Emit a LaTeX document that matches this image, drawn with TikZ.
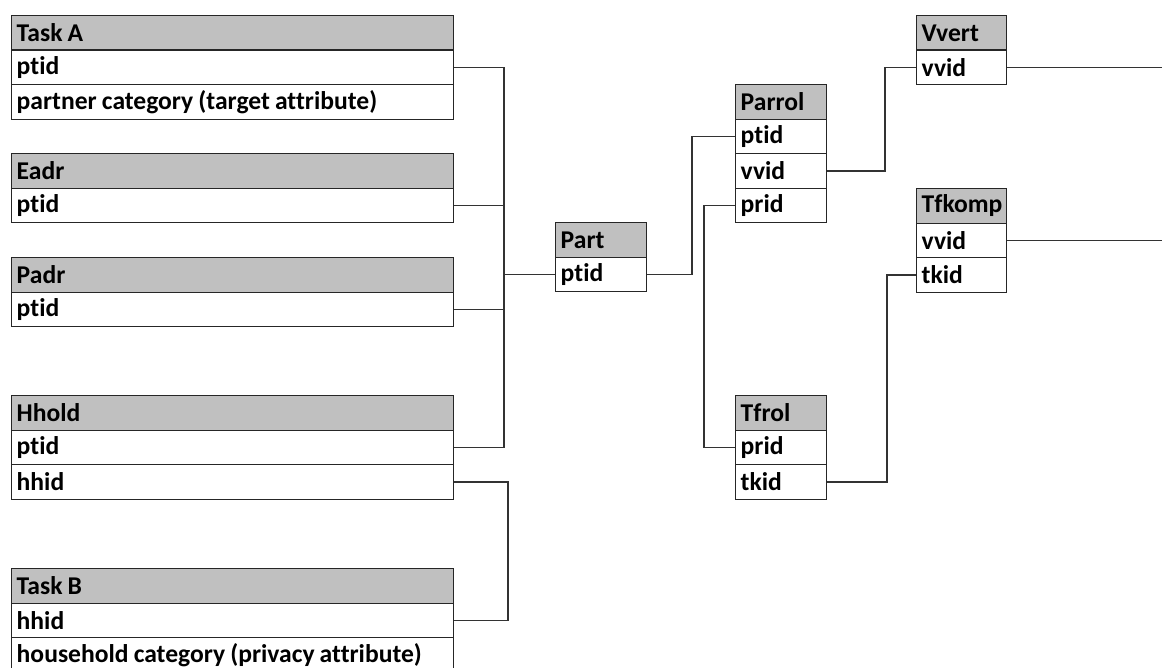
\documentclass[tikz,border=0pt]{standalone}
\usepackage{fontspec}
\setmainfont{Carlito}[Ligatures={NoCommon}]
\usepackage{xcolor}
\definecolor{hdrgray}{HTML}{C0C0C0}
\definecolor{edgegray}{HTML}{262626}
\definecolor{wiregray}{HTML}{333333}

% tighter word spacing inside the cells
\newcommand\tightsp{\spaceskip=0.2em\relax}

% one table: name, left x, top y, width, header, list of rows (all in px)
\newcommand\mktable[6]{%
  \pgfmathsetlengthmacro\tw{(#4-10)*0.75pt}%
  \node[hdr, text width=\tw] (#1-0) at (#2,#3) {#5};
  \foreach \t [count=\i] in {#6} {
    \node[cell, text width=\tw] (#1-\i) at (#2,#3+\i*34.5) {\t};
  }%
}

\begin{document}
\begin{tikzpicture}[x=0.75pt, y=-0.75pt,
  cellbase/.style={draw=edgegray, line width=1.1pt, rectangle, anchor=north west,
    inner xsep=5*0.75pt, inner ysep=0pt, minimum height=34.5*0.75pt,
    align=left, font=\bfseries\fontsize{19.2}{20}\selectfont,
    execute at begin node=\tightsp, text=black},
  hdr/.style={cellbase, fill=hdrgray},
  cell/.style={cellbase, fill=white},
  wire/.style={draw=wiregray, line width=1.1pt}]
\useasboundingbox (0,0) rectangle (1162,667);

% tables
\mktable{taskA}{11}{15}{442}{Task A}{ptid,partner category (target attribute)}
\mktable{eadr}{11}{153}{442}{Eadr}{ptid}
\mktable{padr}{11}{257}{442}{Padr}{ptid}
\mktable{hhold}{11}{395}{442}{Hhold}{ptid,hhid}
\mktable{taskB}{11}{568}{442}{Task B}{hhid,household category (privacy attribute)}
\mktable{part}{555}{222}{91}{Part}{ptid}
\mktable{parrol}{735}{84}{91}{Parrol}{ptid,vvid,prid}
\mktable{tfrol}{735}{395}{91}{Tfrol}{prid,tkid}
\mktable{vvert}{916}{15}{90}{Vvert}{vvid}
\mktable{tfkomp}{916}{188}{90}{Tfkomp}{vvid,tkid}

% junction columns and the right edge
\coordinate (busL) at (504,0);
\coordinate (busH) at (508,0);
\coordinate (busP) at (692,0);
\coordinate (busR) at (704,0);
\coordinate (busV) at (885,0);
\coordinate (busT) at (887,0);
\coordinate (edge) at (1162,0);

% ptid links into Part
\draw[wire] (taskA-1.east) -- (taskA-1.east -| busL) -- (hhold-1.east -| busL) -- (hhold-1.east);
\draw[wire] (eadr-1.east) -- (eadr-1.east -| busL);
\draw[wire] (padr-1.east) -- (padr-1.east -| busL);
\draw[wire] (part-1.west -| busL) -- (part-1.west);

% hhid link
\draw[wire] (hhold-2.east) -| (busH |- taskB-1.east) -- (taskB-1.east);

% Part to Parrol
\draw[wire] (part-1.east) -| (busP |- parrol-1.west) -- (parrol-1.west);

% Parrol to Vvert
\draw[wire] (parrol-2.east) -| (busV |- vvert-1.west) -- (vvert-1.west);

% Parrol to Tfrol
\draw[wire] (parrol-3.west) -| (busR |- tfrol-1.west) -- (tfrol-1.west);

% Tfrol to Tfkomp
\draw[wire] (tfrol-2.east) -| (busT |- tfkomp-2.west) -- (tfkomp-2.west);

% links leaving to the right
\draw[wire] (vvert-1.east) -- (vvert-1.east -| edge);
\draw[wire] (tfkomp-1.east) -- (tfkomp-1.east -| edge);
\end{tikzpicture}
\end{document}
